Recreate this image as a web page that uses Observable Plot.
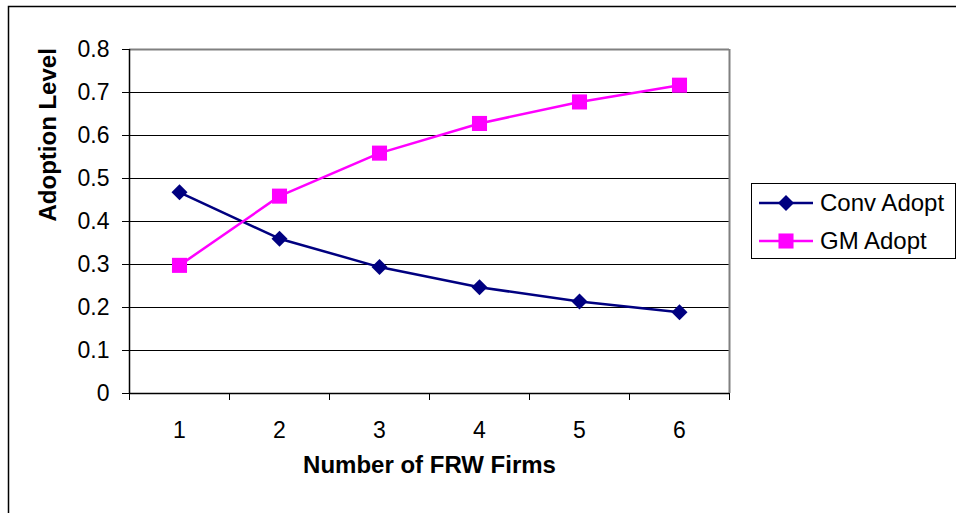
<!DOCTYPE html>
<html>
<head>
<meta charset="utf-8">
<script src="https://cdn.jsdelivr.net/npm/d3@7"></script>
<script src="https://cdn.jsdelivr.net/npm/@observablehq/plot@0.6"></script>
<style>
  html, body { margin: 0; padding: 0; background: #fff; }
  #chart { position: relative; width: 956px; height: 513px; overflow: hidden; }
</style>
</head>
<body>
<div id="chart"></div>
<script>
const firms = [1, 2, 3, 4, 5, 6];
const convAdopt = [0.468, 0.360, 0.294, 0.247, 0.214, 0.189];
const gmAdopt = [0.298, 0.459, 0.559, 0.628, 0.678, 0.717];
const yTicks = [0, 0.1, 0.2, 0.3, 0.4, 0.5, 0.6, 0.7, 0.8];
const xCategoryEdges = [0.5, 1.5, 2.5, 3.5, 4.5, 5.5, 6.5];
const seriesNames = ["Conv Adopt", "GM Adopt"];
const seriesColors = ["#000080", "#FF00FF"];
const xTitle = "Number of FRW Firms";
const yTitle = "Adoption Level";

const conv = firms.map((f, i) => ({ x: f, y: convAdopt[i] }));
const gm = firms.map((f, i) => ({ x: f, y: gmAdopt[i] }));

const font = "'Liberation Sans', Arial, sans-serif";

const chart = Plot.plot({
  width: 956,
  height: 513,
  marginLeft: 129,
  marginRight: 227,
  marginTop: 49,
  marginBottom: 120,
  style: { fontFamily: font, fontSize: "23px", color: "#000", background: "#fff", overflow: "hidden" },
  x: { domain: [0.5, 6.5] },
  y: { domain: [0, 0.8] },
  marks: [
    Plot.ruleY(yTicks.filter(d => d > 0 && d < 0.8), { stroke: "#000", strokeWidth: 1 }),
    Plot.ruleY([0.8], { stroke: "#808080", strokeWidth: 2 }),
    Plot.ruleX([6.5], { stroke: "#808080", strokeWidth: 2 }),
    Plot.ruleX([0.5], { stroke: "#000", strokeWidth: 1.5 }),
    Plot.ruleY([0], { stroke: "#000", strokeWidth: 1.5 }),
    Plot.axisY({ ticks: yTicks, tickSize: 7, tickPadding: 13, label: null,
                 tickFormat: d => String(+d.toFixed(1)), stroke: "#000" }),
    Plot.axisX({ ticks: xCategoryEdges, tickSize: 7, tickFormat: () => "", label: null, stroke: "#000" }),
    Plot.axisX({ ticks: firms, tickSize: 0, tickPadding: 28, label: null, tickFormat: d => String(d) }),
    Plot.line(conv, { x: "x", y: "y", stroke: seriesColors[0], strokeWidth: 2.5 }),
    Plot.line(gm, { x: "x", y: "y", stroke: seriesColors[1], strokeWidth: 2.5 }),
    Plot.dot(conv, { x: "x", y: "y", symbol: "diamond2", r: 7.2, fill: seriesColors[0], stroke: "none" }),
    Plot.dot(gm, { x: "x", y: "y", symbol: "square", r: 8.5, fill: seriesColors[1], stroke: "none" }),
    Plot.text([xTitle], { frameAnchor: "bottom", dy: 79, text: d => d, fontWeight: "bold", fontSize: 24 }),
    Plot.text([yTitle], { frameAnchor: "left", dx: -81, rotate: -90, text: d => d, fontWeight: "bold", fontSize: 24 })
  ]
});

document.getElementById("chart").appendChild(chart);

// outer chart-area border and legend
const svg = d3.select(chart);
svg.append("rect")
  .attr("x", 8.5).attr("y", 6.5).attr("width", 1000).attr("height", 1000)
  .attr("fill", "none").attr("stroke", "#000").attr("stroke-width", 1.5);

const lg = svg.append("g").attr("transform", "translate(751,183)");
lg.append("rect").attr("x", 0.5).attr("y", 0.5).attr("width", 204).attr("height", 75)
  .attr("fill", "#fff").attr("stroke", "#000").attr("stroke-width", 1);
const rowsY = [20, 58];
const symbols = [d3.symbolDiamond2, d3.symbolSquare];
const sizes = [Math.PI * 7.2 * 7.2, Math.PI * 8.5 * 8.5];
seriesNames.forEach((name, i) => {
  const g = lg.append("g").attr("transform", `translate(0,${rowsY[i]})`);
  g.append("line").attr("x1", 8).attr("x2", 62).attr("y1", 0).attr("y2", 0)
    .attr("stroke", seriesColors[i]).attr("stroke-width", 2.5);
  g.append("path").attr("transform", "translate(35,0)")
    .attr("d", d3.symbol(symbols[i], sizes[i])()).attr("fill", seriesColors[i]);
  g.append("text").attr("x", 69).attr("y", 0).attr("dy", "0.35em")
    .attr("text-anchor", "start")
    .attr("font-family", font).attr("font-size", 24).attr("fill", "#000").text(name);
});
</script>
</body>
</html>
